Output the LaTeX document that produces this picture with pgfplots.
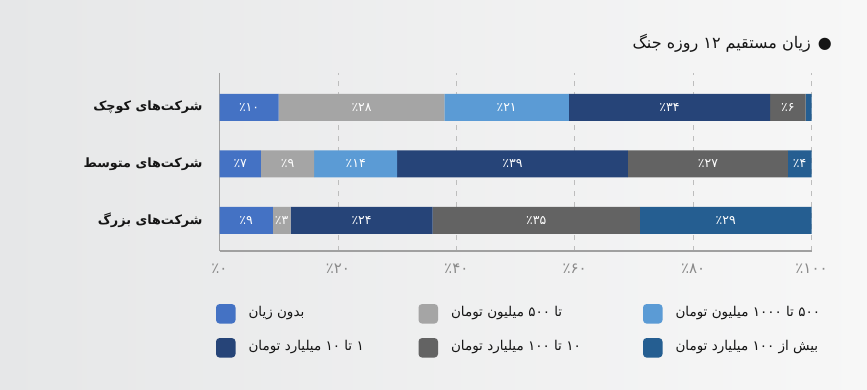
\documentclass[border=0pt]{standalone}
\usepackage{pgfplots}
\pgfplotsset{compat=1.18}
\usepackage{fontspec}
\setmainfont{DejaVu Sans}
\newfontfamily\arabicfont[Script=Arabic]{DejaVu Sans}
\TeXXeTstate=1
\definecolor{cA}{HTML}{4472C4}
\definecolor{cB}{HTML}{A5A5A5}
\definecolor{cC}{HTML}{5B9BD5}
\definecolor{cD}{HTML}{264478}
\definecolor{cE}{HTML}{636363}
\definecolor{cF}{HTML}{255E91}
\definecolor{bgL}{HTML}{E6E7E8}
\definecolor{bgR}{HTML}{F7F7F7}
\definecolor{axc}{HTML}{A0A0A0}
\definecolor{gridc}{HTML}{BDBDBD}
\definecolor{tickc}{HTML}{8A8A8A}
\definecolor{txt}{HTML}{151515}
\begin{document}
\begin{tikzpicture}[x=1pt,y=1pt]
\shade[left color=bgL, right color=bgR] (0,0) rectangle (867,389);
\useasboundingbox (0,0) rectangle (867,389);
\node[anchor=east, inner sep=0pt, text=txt, font=\arabicfont\fontsize{16}{16}\selectfont] at (832,346) {\beginR ●\hspace{7pt}زیان مستقیم ۱۲ روزه جنگ\endR};
\begin{axis}[
  at={(219.5pt,138pt)}, anchor=south west,
  scale only axis, width=592pt, height=178pt,
  xbar stacked, bar width=27pt,
  xmin=0, xmax=100, ymin=-0.539, ymax=2.606,
  axis lines=left, axis line style={-, draw=axc, line width=1.2pt},
  xtick={0,20,40,60,80,100},
  xticklabels={٪۰,٪۲۰,٪۴۰,٪۶۰,٪۸۰,٪۱۰۰},
  xticklabel style={anchor=center, inner sep=0pt, yshift=-18pt, text=tickc, font=\arabicfont\fontsize{15}{15}\selectfont},
  ytick={0,1,2},
  yticklabels={{\beginR شرکت^^^^200cهای بزرگ\endR},{\beginR شرکت^^^^200cهای متوسط\endR},{\beginR شرکت^^^^200cهای کوچک\endR}},
  yticklabel style={anchor=east, inner sep=0pt, xshift=-16.8pt, text=txt, font=\arabicfont\bfseries\fontsize{12.8}{12.8}\selectfont},
  major tick length=0pt,
  xmajorgrids, grid style={dash pattern=on 5pt off 6pt, draw=gridc, line width=0.7pt},
  nodes near coords, point meta=explicit symbolic,
  nodes near coords style={text=white, font=\arabicfont\fontsize{12.5}{12.5}\selectfont},
  legend columns=3, legend cell align=left,
  legend image code/.code={\fill[#1, rounded corners=3.5pt] (0pt,-9.75pt) rectangle (19.5pt,9.75pt); \path (32.5pt,0pt);},
  legend style={at={(axis description cs:-0.0059,-0.298)}, anchor=north west, draw=none, fill=none, inner sep=0pt, outer sep=0pt, row sep=14.5pt, column sep=0pt,
    nodes={inner sep=0pt, text height=10pt, text depth=4pt, text=txt, font=\arabicfont\fontsize{13.5}{13.5}\selectfont}},
]
\addplot[fill=cA, draw=none] coordinates {(9,0)[٪۹] (7,1)[٪۷] (10,2)[٪۱۰]};
\addplot[fill=cB, draw=none] coordinates {(3,0)[٪۳] (9,1)[٪۹] (28,2)[٪۲۸]};
\addplot[fill=cC, draw=none] coordinates {(0,0)[] (14,1)[٪۱۴] (21,2)[٪۲۱]};
\addplot[fill=cD, draw=none] coordinates {(24,0)[٪۲۴] (39,1)[٪۳۹] (34,2)[٪۳۴]};
\addplot[fill=cE, draw=none] coordinates {(35,0)[٪۳۵] (27,1)[٪۲۷] (6,2)[٪۶]};
\addplot[fill=cF, draw=none] coordinates {(29,0)[٪۲۹] (4,1)[٪۴] (1,2)[]};
\legend{
  {\makebox[170pt][l]{\beginR بدون زیان\endR}},
  {\makebox[192pt][l]{\beginR تا ۵۰۰ میلیون تومان\endR}},
  {\makebox[150pt][l]{\beginR ۵۰۰ تا ۱۰۰۰ میلیون تومان\endR}},
  {\makebox[170pt][l]{\beginR ۱ تا ۱۰ میلیارد تومان\endR}},
  {\makebox[192pt][l]{\beginR ۱۰ تا ۱۰۰ میلیارد تومان\endR}},
  {\makebox[150pt][l]{\beginR بیش از ۱۰۰ میلیارد تومان\endR}}
}
\end{axis}
\end{tikzpicture}
\end{document}
